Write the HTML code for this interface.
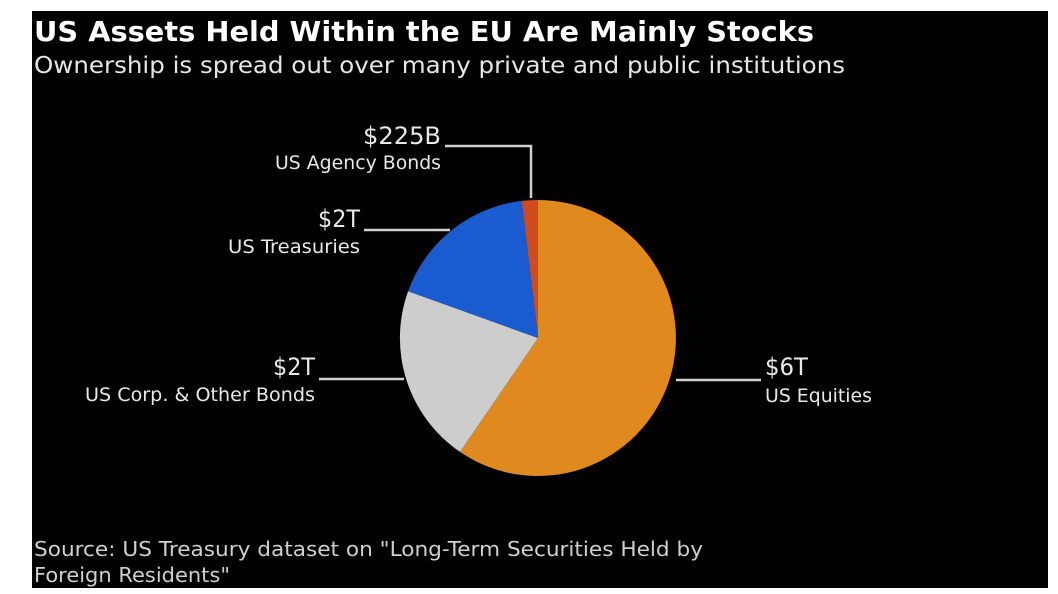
<!DOCTYPE html>
<html><head><meta charset="utf-8"><style>
html,body{margin:0;padding:0;background:#fff;width:1058px;height:594px;overflow:hidden}
svg{display:block}
text{font-family:"DejaVu Sans","Liberation Sans",sans-serif}
</style></head><body>
<svg width="1058" height="594" viewBox="0 0 1058 594">
<rect x="32" y="11" width="1016" height="577" fill="#000"/>
<text x="34" y="41" font-size="28" font-weight="bold" fill="#fff" textLength="780" lengthAdjust="spacingAndGlyphs">US Assets Held Within the EU Are Mainly Stocks</text>
<text x="34" y="73" font-size="23" fill="#e6e6e6" textLength="811" lengthAdjust="spacingAndGlyphs">Ownership is spread out over many private and public institutions</text>
<path d="M538,338 L538,200 A138,138 0 1,1 460.0,451.9 Z" fill="#e0891f"/>
<path d="M538,338 L460.0,451.9 A138,138 0 0,1 408.1,291.2 Z" fill="#cdcdcd"/>
<path d="M538,338 L408.1,291.2 A138,138 0 0,1 521.7,200.9 Z" fill="#1a5cd0"/>
<path d="M538,338 L521.7,200.9 A138,138 0 0,1 538,200 Z" fill="#cf4a1c"/>
<g stroke="#d0d0d0" stroke-width="2.5" fill="none">
<polyline points="445,146 531,146 531,198"/>
<line x1="364" y1="230" x2="450" y2="230"/>
<line x1="319" y1="379" x2="404" y2="379"/>
<line x1="676" y1="380" x2="761" y2="380"/>
</g>
<g fill="#e8e8e8" text-anchor="end" lengthAdjust="spacingAndGlyphs">
<text x="441" y="144" font-size="24" textLength="78" lengthAdjust="spacingAndGlyphs">$225B</text>
<text x="441" y="169" font-size="19" textLength="166" lengthAdjust="spacingAndGlyphs">US Agency Bonds</text>
<text x="360" y="227" font-size="24" textLength="42" lengthAdjust="spacingAndGlyphs">$2T</text>
<text x="360" y="253" font-size="19" textLength="132" lengthAdjust="spacingAndGlyphs">US Treasuries</text>
<text x="315" y="375" font-size="24" textLength="42" lengthAdjust="spacingAndGlyphs">$2T</text>
<text x="315" y="401" font-size="19" textLength="230" lengthAdjust="spacingAndGlyphs">US Corp. &amp; Other Bonds</text>
</g>
<g fill="#e8e8e8">
<text x="765" y="375" font-size="24" textLength="43" lengthAdjust="spacingAndGlyphs">$6T</text>
<text x="765" y="402" font-size="19" textLength="107" lengthAdjust="spacingAndGlyphs">US Equities</text>
</g>
<text x="34" y="556" font-size="20" fill="#cfcfcf" textLength="669" lengthAdjust="spacingAndGlyphs">Source: US Treasury dataset on "Long-Term Securities Held by</text>
<text x="34" y="582" font-size="20" fill="#cfcfcf" textLength="196" lengthAdjust="spacingAndGlyphs">Foreign Residents"</text>
</svg>
</body></html>
